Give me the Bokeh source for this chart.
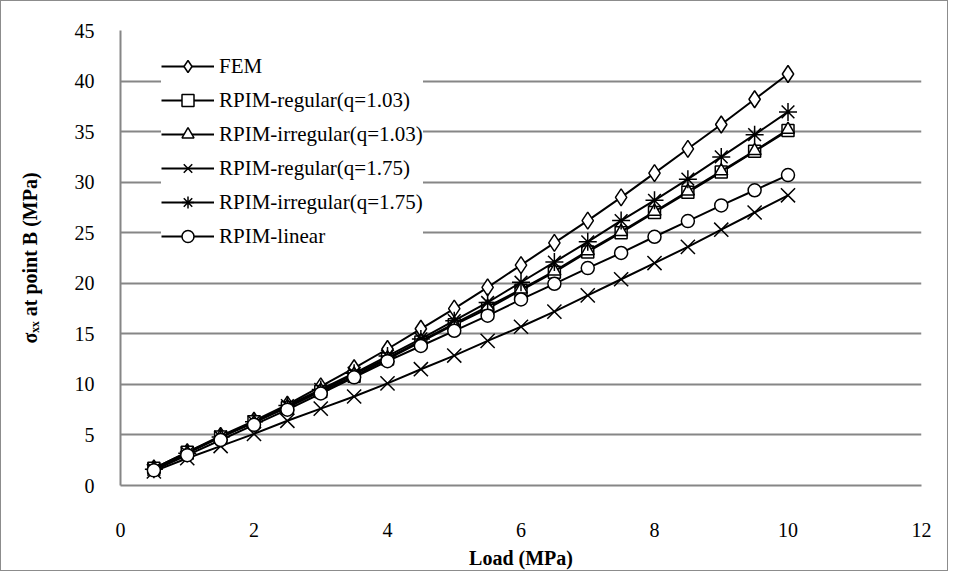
from bokeh.plotting import figure
from bokeh.models import Range1d, FixedTicker, Legend, LegendItem
from bokeh.embed import file_html
from bokeh.resources import INLINE

load = [0.5, 1, 1.5, 2, 2.5, 3, 3.5, 4, 4.5, 5, 5.5, 6, 6.5, 7, 7.5, 8, 8.5, 9, 9.5, 10]

fem = [1.7, 3.3, 4.9, 6.4, 8.0, 9.8, 11.6, 13.5, 15.5, 17.5, 19.6, 21.8, 24.0, 26.2, 28.5, 30.9, 33.3, 35.7, 38.2, 40.7]
reg_103 = [1.7, 3.3, 4.8, 6.3, 7.7, 9.3, 10.8, 12.5, 14.2, 15.9, 17.5, 19.3, 21.1, 23.1, 25.0, 27.0, 29.0, 31.0, 33.05, 35.1]
irr_103 = [1.6, 3.2, 4.8, 6.2, 7.8, 9.4, 11.0, 12.6, 14.3, 16.0, 17.7, 19.4, 21.2, 23.2, 25.1, 27.1, 29.1, 31.1, 33.1, 35.2]
reg_175 = [1.4, 2.7, 3.9, 5.1, 6.4, 7.6, 8.8, 10.1, 11.5, 12.85, 14.3, 15.7, 17.2, 18.8, 20.4, 22.0, 23.6, 25.3, 27.0, 28.7]
irr_175 = [1.6, 3.2, 4.8, 6.3, 7.9, 9.5, 11.1, 12.8, 14.5, 16.3, 18.1, 20.1, 22.1, 24.1, 26.2, 28.2, 30.3, 32.5, 34.7, 36.95]
linear = [1.5, 3.0, 4.5, 6.0, 7.5, 9.1, 10.7, 12.3, 13.8, 15.3, 16.8, 18.4, 19.95, 21.5, 23.0, 24.6, 26.15, 27.7, 29.2, 30.7]

series_names = ["FEM", "RPIM-regular(q=1.03)", "RPIM-irregular(q=1.03)",
                "RPIM-regular(q=1.75)", "RPIM-irregular(q=1.75)", "RPIM-linear"]
series_values = [fem, reg_103, irr_103, reg_175, irr_175, linear]
series_markers = ["diamond", "square", "triangle", "x", "asterisk", "circle"]
marker_sizes = [17, 12, 13, 20, 18, 13]

x_ticks = [0, 2, 4, 6, 8, 10, 12]
y_ticks = [0, 5, 10, 15, 20, 25, 30, 35, 40, 45]

FONT = "Liberation Serif"
GRID = "#868686"

p = figure(width=948, height=571, output_backend="svg", toolbar_location=None,
           x_range=Range1d(0, 12), y_range=Range1d(0, 45),
           min_border_left=119, min_border_right=28, min_border_top=29, min_border_bottom=87,
           styles={"border": "1px solid #8c8c8c"})
p.outline_line_color = None
p.background_fill_color = "white"

p.xgrid.grid_line_color = None
p.ygrid.ticker = FixedTicker(ticks=y_ticks)
p.ygrid.grid_line_color = GRID
p.ygrid.grid_line_width = 2

p.xaxis.ticker = FixedTicker(ticks=x_ticks)
p.yaxis.ticker = FixedTicker(ticks=y_ticks)
for ax in (p.xaxis, p.yaxis):
    ax.axis_line_color = GRID
    ax.axis_line_width = 2
    ax.major_tick_line_color = None
    ax.minor_tick_line_color = None
    ax.major_label_text_font = FONT
    ax.major_label_text_font_size = "20px"
    ax.major_label_text_color = "black"
    ax.axis_label_text_font = FONT
    ax.axis_label_text_font_size = "20px"
    ax.axis_label_text_font_style = "bold"
    ax.axis_label_text_color = "black"

p.xaxis.axis_label = "Load (MPa)"
p.xaxis.major_label_standoff = 31
p.xaxis.axis_label_standoff = 7
p.yaxis.axis_label = "σₓₓ at point B (MPa)"
p.yaxis.major_label_standoff = 20
p.yaxis.axis_label_standoff = 31

items = []
for name, vals, mk, sz in zip(series_names, series_values, series_markers, marker_sizes):
    ln = p.line(load, vals, line_color="black", line_width=2)
    sc = p.scatter(load, vals, marker=mk, size=sz, line_color="black", line_width=1.5,
                   fill_color="white")
    items.append(LegendItem(label=name, renderers=[ln, sc]))

legend = Legend(items=items, location=(41, 234))
legend.label_text_font = FONT
legend.label_text_font_size = "21px"
legend.label_text_color = "black"
legend.glyph_width = 53
legend.glyph_height = 30
legend.label_height = 30
legend.spacing = 4
legend.padding = 10
legend.label_standoff = 5
legend.border_line_color = None
legend.background_fill_color = "white"
legend.background_fill_alpha = 1.0
p.add_layout(legend)

open("out.html", "w").write(file_html(p, INLINE))
